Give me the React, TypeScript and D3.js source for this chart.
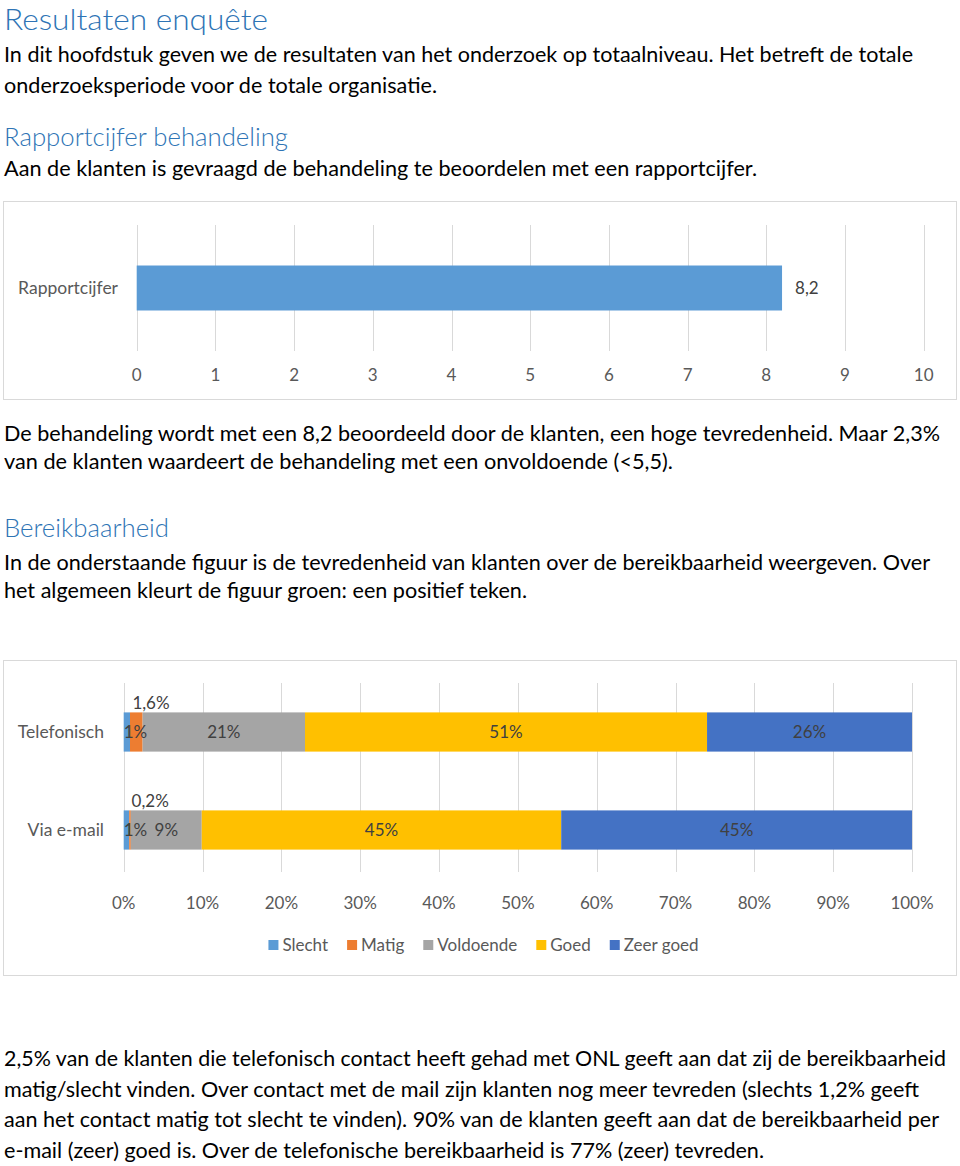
import React, { useEffect, useRef } from 'react';
import * as d3 from 'd3';

// ---------- Content ----------
const headings = ['Resultaten enquête', 'Rapportcijfer behandeling', 'Bereikbaarheid'];

const bodyLines = [
  'In dit hoofdstuk geven we de resultaten van het onderzoek op totaalniveau. Het betreft de totale',
  'onderzoeksperiode voor de totale organisatie.',
  'Aan de klanten is gevraagd de behandeling te beoordelen met een rapportcijfer.',
  'De behandeling wordt met een 8,2 beoordeeld door de klanten, een hoge tevredenheid. Maar 2,3%',
  'van de klanten waardeert de behandeling met een onvoldoende (<5,5).',
  'In de onderstaande figuur is de tevredenheid van klanten over de bereikbaarheid weergeven. Over',
  'het algemeen kleurt de figuur groen: een positief teken.',
  '2,5% van de klanten die telefonisch contact heeft gehad met ONL geeft aan dat zij de bereikbaarheid',
  'matig/slecht vinden. Over contact met de mail zijn klanten nog meer tevreden (slechts 1,2% geeft',
  'aan het contact matig tot slecht te vinden). 90% van de klanten geeft aan dat de bereikbaarheid per',
  'e-mail (zeer) goed is. Over de telefonische bereikbaarheid is 77% (zeer) tevreden.',
];

// Chart 1 data
const scoreCategories = ['Rapportcijfer'];
const scoreValues = [8.2];
const scoreLabels = ['8,2'];
const scoreTicks = [0, 1, 2, 3, 4, 5, 6, 7, 8, 9, 10];

// Chart 2 data
const reachCategories = ['Telefonisch', 'Via e-mail'];
const reachSeries = ['Slecht', 'Matig', 'Voldoende', 'Goed', 'Zeer goed'];
const slecht = [0.8, 0.7];
const matig = [1.6, 0.2];
const voldoende = [20.6, 9.0];
const goed = [51.0, 45.6];
const zeerGoed = [26.0, 44.5];
const slechtLabels = ['1%', '1%'];
const matigLabels = ['1,6%', '0,2%'];
const voldoendeLabels = ['21%', '9%'];
const goedLabels = ['51%', '45%'];
const zeerGoedLabels = ['26%', '45%'];
const percentTicks = [0, 10, 20, 30, 40, 50, 60, 70, 80, 90, 100];

// ---------- Layout / style ----------
const headingColor = '#2E74B5';
const chartText = '#595959';
const labelText = '#404040';
const gridColor = '#D9D9D9';
const seriesColors = ['#5B9BD5', '#ED7D31', '#A5A5A5', '#FFC000', '#4472C4'];
const FONT = 'Lato, "Open Sans", sans-serif';

const headingLayout = [
  { y: 30, w: 264, size: 30 },
  { y: 146, w: 284, size: 26 },
  { y: 537, w: 165, size: 26 },
];
const bodyLayout = [
  { y: 62, w: 909 },
  { y: 93, w: 433 },
  { y: 176, w: 753 },
  { y: 441, w: 936 },
  { y: 469, w: 669 },
  { y: 570, w: 926 },
  { y: 598, w: 523 },
  { y: 1066, w: 942 },
  { y: 1097, w: 915 },
  { y: 1127, w: 935 },
  { y: 1158, w: 760 },
];

export default function App() {
  const ref = useRef<SVGSVGElement | null>(null);

  useEffect(() => {
    const svg = d3.select(ref.current);
    svg.selectAll('*').remove();

    // ---- Text ----
    headings.forEach((t, i) => {
      const l = headingLayout[i];
      svg.append('text')
        .attr('x', 4).attr('y', l.y)
        .attr('font-family', FONT).attr('font-weight', 300)
        .attr('font-size', l.size).attr('fill', headingColor)
        .attr('textLength', l.w).attr('lengthAdjust', 'spacingAndGlyphs')
        .text(t);
    });
    bodyLines.forEach((t, i) => {
      const l = bodyLayout[i];
      svg.append('text')
        .attr('x', 4).attr('y', l.y)
        .attr('font-family', FONT)
        .attr('font-size', 20.5).attr('fill', '#000')
        .attr('textLength', l.w).attr('lengthAdjust', 'spacingAndGlyphs')
        .text(t);
    });

    // ---- Chart 1 ----
    const c1 = svg.append('g');
    c1.append('rect').attr('x', 3.5).attr('y', 201.5).attr('width', 953).attr('height', 198)
      .attr('fill', '#fff').attr('stroke', gridColor);
    const x1 = d3.scaleLinear().domain([0, 10]).range([136.7, 923.7]);
    const y1 = d3.scaleBand<string>().domain(scoreCategories).range([225, 351])
      .paddingInner(0.643).paddingOuter(0.3215);
    c1.selectAll('line.grid').data(scoreTicks).join('line')
      .attr('x1', (d) => Math.round(x1(d)) + 0.5).attr('x2', (d) => Math.round(x1(d)) + 0.5)
      .attr('y1', 225).attr('y2', 351).attr('stroke', gridColor);
    c1.selectAll('rect.bar').data(scoreValues).join('rect')
      .attr('x', x1(0)).attr('y', (_, i) => y1(scoreCategories[i])!)
      .attr('width', (d) => x1(d) - x1(0)).attr('height', y1.bandwidth())
      .attr('fill', seriesColors[0]);
    c1.selectAll('text.tick').data(scoreTicks).join('text')
      .attr('x', (d) => x1(d)).attr('y', 381).attr('text-anchor', 'middle')
      .attr('font-family', FONT).attr('font-size', 17).attr('fill', chartText)
      .text((d) => String(d));
    c1.selectAll('text.cat').data(scoreCategories).join('text')
      .attr('x', 118).attr('y', (d) => y1(d)! + y1.bandwidth() / 2 + 6)
      .attr('text-anchor', 'end')
      .attr('font-family', FONT).attr('font-size', 17.5).attr('fill', chartText)
      .text((d) => d);
    c1.selectAll('text.val').data(scoreValues).join('text')
      .attr('x', (d) => x1(d) + 13).attr('y', (_, i) => y1(scoreCategories[i])! + y1.bandwidth() / 2 + 6)
      .attr('font-family', FONT).attr('font-size', 17).attr('fill', labelText)
      .text((_, i) => scoreLabels[i]);

    // ---- Chart 2 ----
    const c2 = svg.append('g');
    c2.append('rect').attr('x', 3.5).attr('y', 660.5).attr('width', 953).attr('height', 315)
      .attr('fill', '#fff').attr('stroke', gridColor);
    const x2 = d3.scaleLinear().domain([0, 100]).range([123.7, 912]);
    const y2 = d3.scaleBand<string>().domain(reachCategories).range([683, 879])
      .paddingInner(0.6).paddingOuter(0.3);
    c2.selectAll('line.grid').data(percentTicks).join('line')
      .attr('x1', (d) => Math.round(x2(d)) + 0.5).attr('x2', (d) => Math.round(x2(d)) + 0.5)
      .attr('y1', 683).attr('y2', 872).attr('stroke', gridColor);

    const rows = reachCategories.map((c, i) => ({
      cat: c,
      Slecht: slecht[i], Matig: matig[i], Voldoende: voldoende[i], Goed: goed[i], 'Zeer goed': zeerGoed[i],
    }));
    const stacked = d3.stack<any>().keys(reachSeries)(rows);
    const labelSets = [slechtLabels, matigLabels, voldoendeLabels, goedLabels, zeerGoedLabels];

    stacked.forEach((layer, si) => {
      c2.append('g').selectAll('rect').data(layer).join('rect')
        .attr('x', (d) => x2(d[0])).attr('width', (d) => x2(d[1]) - x2(d[0]))
        .attr('y', (d) => y2(d.data.cat)!).attr('height', y2.bandwidth())
        .attr('fill', seriesColors[si]);
    });
    stacked.forEach((layer, si) => {
      c2.append('g').selectAll('text').data(layer).join('text')
        .attr('x', (d) => {
          if (si === 0) return x2(d[0]);
          if (si === 1) return x2(d[0]) + 21;
          return (x2(d[0]) + x2(d[1])) / 2;
        })
        .attr('y', (d) => {
          const top = y2(d.data.cat)!;
          if (si === 1) return top - 3;
          return top + y2.bandwidth() / 2 + 6;
        })
        .attr('text-anchor', si === 0 ? 'start' : 'middle')
        .attr('font-family', FONT).attr('font-size', 17).attr('fill', labelText)
        .text((_, i) => labelSets[si][i]);
    });
    c2.selectAll('text.cat').data(reachCategories).join('text')
      .attr('x', 104).attr('y', (d) => y2(d)! + y2.bandwidth() / 2 + 6)
      .attr('text-anchor', 'end')
      .attr('font-family', FONT).attr('font-size', 17.5).attr('fill', chartText)
      .text((d) => d);
    c2.selectAll('text.tick').data(percentTicks).join('text')
      .attr('x', (d) => x2(d)).attr('y', 909).attr('text-anchor', 'middle')
      .attr('font-family', FONT).attr('font-size', 17).attr('fill', chartText)
      .text((d) => d + '%');

    // Legend
    const lg = c2.append('g');
    const items = reachSeries.map((s, i) => {
      const g = lg.append('g');
      g.append('rect').attr('x', 0).attr('y', -5).attr('width', 10).attr('height', 10)
        .attr('fill', seriesColors[i]);
      const t = g.append('text').attr('x', 14).attr('y', 6)
        .attr('font-family', FONT).attr('font-size', 17).attr('fill', chartText).text(s);
      const w = 14 + (t.node() as SVGTextElement).getComputedTextLength();
      return { g, w };
    });
    const gap = 19;
    const total = items.reduce((a, b) => a + b.w, 0) + gap * (items.length - 1);
    let cx = 483.5 - total / 2;
    items.forEach((it) => {
      it.g.attr('transform', `translate(${cx},945)`);
      cx += it.w + gap;
    });
  }, []);

  return (
    <svg
      ref={ref}
      width={960}
      height={1166}
      style={{ position: 'absolute', left: 0, top: 0, background: '#fff' }}
    />
  );
}
